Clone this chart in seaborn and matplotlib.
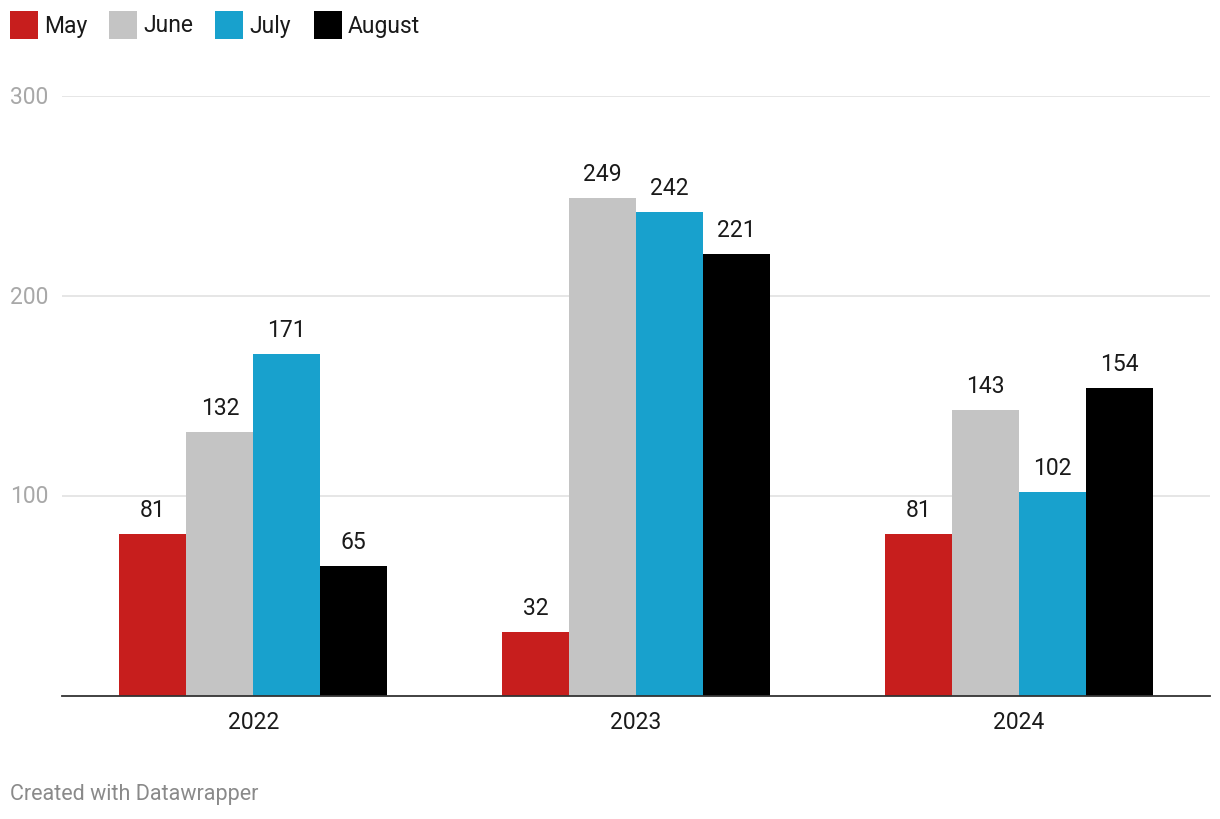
import pandas as pd
import seaborn as sns
import matplotlib.pyplot as plt
from matplotlib.patches import Rectangle

years = ['2022', '2023', '2024']
months = ['May', 'June', 'July', 'August']
may = [81, 32, 81]
june = [132, 249, 143]
july = [171, 242, 102]
august = [65, 221, 154]
colors = ['#c71e1d', '#c4c4c4', '#18a1cd', '#000000']

rows = []
for month, vals in zip(months, [may, june, july, august]):
    for year, v in zip(years, vals):
        rows.append({'year': year, 'month': month, 'value': v})
df = pd.DataFrame(rows)

sns.set_style('white')
plt.rcParams['font.family'] = ['Roboto', 'DejaVu Sans']

W, H = 1220, 820
fig = plt.figure(figsize=(W / 100, H / 100), dpi=100)
ax = fig.add_axes([62 / W, 1 - 697 / H, 1148 / W, 600 / H])

sns.barplot(data=df, x='year', y='value', hue='month', hue_order=months,
            order=years, palette=colors, width=0.7, gap=0, saturation=1,
            linewidth=0, edgecolor='none', legend=False, ax=ax)

for cont in ax.containers:
    ax.bar_label(cont, padding=9, fontsize=16.5, color='#1a1a1a')

ax.set_xlim(-0.5, 2.5)
ax.set_ylim(0, 300)
ax.set_yticks([])
for t in [100, 200, 300]:
    ax.axhline(t, color='#e2e2e2', lw=1.2, zorder=0)
    fig.text(10 / W, ax.transData.transform((0, t))[1] / H, str(t),
             ha='left', va='center', fontsize=16.5, color='#a8a8a8')
ax.tick_params(axis='x', length=0, labelsize=16.5, labelcolor='#1a1a1a', pad=10)
ax.set_xlabel('')
ax.set_ylabel('')
for s in ['top', 'right', 'left']:
    ax.spines[s].set_visible(False)
ax.spines['bottom'].set_color('#333333')
ax.spines['bottom'].set_linewidth(1.3)

# legend along the top
leg_x = [10, 109, 215, 314]
for x0, c, m in zip(leg_x, colors, months):
    fig.patches.append(Rectangle((x0 / W, 1 - 40 / H), 28 / W, 28 / H,
                                 transform=fig.transFigure, facecolor=c,
                                 edgecolor='none'))
    fig.text((x0 + 34) / W, 1 - 26 / H, m, fontsize=16.5, color='#1a1a1a',
             ha='left', va='center')

fig.text(10 / W, 1 - 795 / H, 'Created with Datawrapper', fontsize=15.5,
         color='#8a8a8a', va='center', ha='left')

fig.savefig('out.png', dpi=100)
